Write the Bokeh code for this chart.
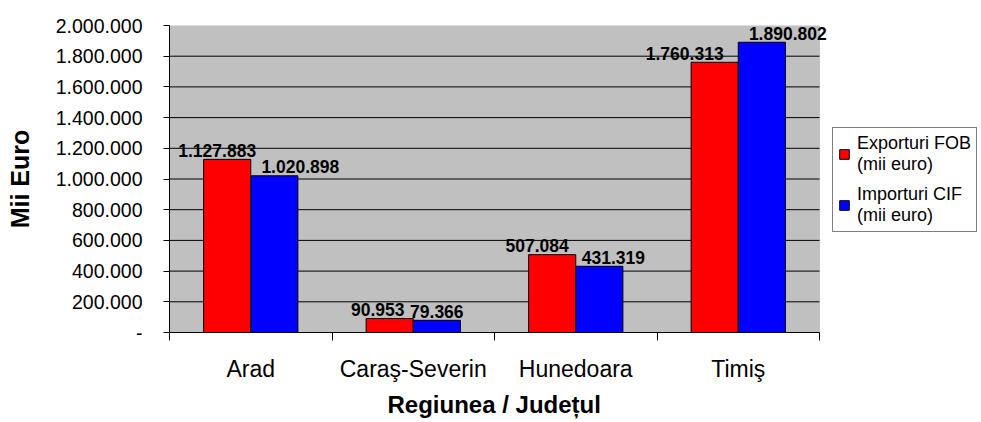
from bokeh.plotting import figure
from bokeh.models import (Range1d, FixedTicker, Legend, LegendItem,
                          ColumnDataSource, BoxAnnotation, Title)
from bokeh.embed import file_html
from bokeh.resources import INLINE
from bokeh.core.properties import value

# ---- data ----
regions = ["Arad", "Caraş-Severin", "Hunedoara", "Timiş"]
exports = [1127883, 90953, 507084, 1760313]
imports = [1020898, 79366, 431319, 1890802]
series_names = ["Exporturi FOB\n(mii euro)", "Importuri CIF\n(mii euro)"]
y_ticks = [0, 200000, 400000, 600000, 800000, 1000000,
           1200000, 1400000, 1600000, 1800000, 2000000]
y_tick_labels = ["-", "200.000", "400.000", "600.000", "800.000", "1.000.000",
                 "1.200.000", "1.400.000", "1.600.000", "1.800.000", "2.000.000"]
y_title = "Mii Euro"
x_title = "Regiunea / Județul"

# ---- styling / layout ----
colors = ["#FF0000", "#0000FF"]
bar_w = 0.29
exp_label_nudge = [-10, -12, -15, -30]   # px, label placement like the original
imp_label_nudge = [26, 0, 14, 26]
FONT = "Liberation Sans"
W, H = 981, 422
LEFT, TOP, BOTTOM = 169, 25, 90
PLOT_W = 650          # width of the grey plot area in px

n = len(regions)
frame_w = W - LEFT
x_end = n * frame_w / PLOT_W   # frame extends right to hold the legend


def fmt(v):
    return f"{v:,}".replace(",", ".")


centers = [i + 0.5 for i in range(n)]

p = figure(width=W, height=H,
           x_range=Range1d(0, x_end), y_range=Range1d(0, y_ticks[-1]),
           output_backend="svg", toolbar_location=None,
           min_border_left=LEFT, min_border_right=0,
           min_border_top=TOP, min_border_bottom=BOTTOM,
           background_fill_color="white", border_fill_color="white",
           outline_line_color=None)

# grey plot area
p.add_layout(BoxAnnotation(left=0, right=n, bottom=0, top=y_ticks[-1],
                           fill_color="#C0C0C0", fill_alpha=1,
                           line_color="#808080", line_width=1, level="image"))
# horizontal gridlines limited to the plot area
grid_y = y_ticks[1:-1]
p.segment(x0=[0] * len(grid_y), x1=[n] * len(grid_y), y0=grid_y, y1=grid_y,
          line_color="black", line_width=1, level="underlay")

src_e = ColumnDataSource(dict(x=[c - bar_w / 2 for c in centers], top=exports,
                              lab=[fmt(v) for v in exports], dx=exp_label_nudge))
src_i = ColumnDataSource(dict(x=[c + bar_w / 2 for c in centers], top=imports,
                              lab=[fmt(v) for v in imports], dx=imp_label_nudge))

r_e = p.vbar(x="x", top="top", width=bar_w, source=src_e,
             fill_color=colors[0], line_color="black", line_width=1)
r_i = p.vbar(x="x", top="top", width=bar_w, source=src_i,
             fill_color=colors[1], line_color="black", line_width=1)

for src in (src_e, src_i):
    p.text(x="x", y="top", text="lab", source=src, x_offset="dx", y_offset=-9,
           text_align="center", text_baseline="alphabetic",
           text_font=value(FONT), text_font_style="bold",
           text_font_size="17.5px", text_color="black")

# x axis: labels at centres, tick marks at category boundaries
xa = p.xaxis[0]
xa.bounds = (0, n)
xa.ticker = FixedTicker(ticks=centers, minor_ticks=list(range(n + 1)))
xa.major_label_overrides = {c: r for c, r in zip(centers, regions)}
xa.major_tick_out = 0
xa.major_tick_in = 0
xa.minor_tick_out = 8
xa.minor_tick_in = 0
xa.minor_tick_line_color = "black"
xa.axis_line_color = "black"
xa.major_label_standoff = 15
xa.major_label_text_font = FONT
xa.major_label_text_font_size = "23px"
xa.major_label_text_color = "black"

# x title centred under the grey plot area (not the wider frame)
p.add_layout(Title(text=x_title, align="left", offset=PLOT_W / 2 - 107,
                   standoff=9, text_font=FONT, text_font_style="bold",
                   text_font_size="24px", text_color="black"), "below")

ya = p.yaxis[0]
ya.ticker = FixedTicker(ticks=y_ticks)
ya.major_label_overrides = {t: l for t, l in zip(y_ticks, y_tick_labels)}
ya.major_tick_out = 6
ya.major_tick_in = 0
ya.minor_tick_out = 0
ya.minor_tick_in = 0
ya.major_tick_line_color = "black"
ya.axis_line_color = "black"
ya.major_label_standoff = 21
ya.major_label_text_font = FONT
ya.major_label_text_font_size = "19.5px"
ya.major_label_text_color = "black"
ya.axis_label = y_title
ya.axis_label_text_font = FONT
ya.axis_label_text_font_style = "bold"
ya.axis_label_text_font_size = "25px"
ya.axis_label_text_color = "black"
ya.axis_label_standoff = 19

p.xgrid.visible = False
p.ygrid.visible = False

legend = Legend(items=[LegendItem(label=series_names[0], renderers=[r_e]),
                       LegendItem(label=series_names[1], renderers=[r_i])],
                location=(663, 100), orientation="vertical",
                border_line_color="black", border_line_width=1,
                background_fill_color="white", background_fill_alpha=1,
                padding=5, spacing=9, margin=0,
                glyph_width=12, glyph_height=12, label_standoff=7,
                label_text_font=FONT, label_text_font_size="18px",
                label_text_color="black", label_text_line_height=1.45)
p.add_layout(legend)

open("out.html", "w").write(file_html(p, INLINE))
